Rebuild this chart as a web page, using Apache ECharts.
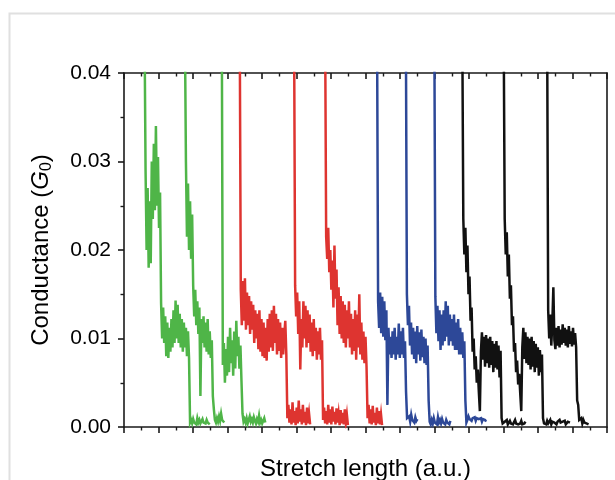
<!DOCTYPE html>
<html><head><meta charset="utf-8">
<script src="https://cdn.jsdelivr.net/npm/echarts/dist/echarts.min.js"></script>
<style>html,body{margin:0;padding:0;background:#fff}#c{width:615px;height:480px}</style>
</head><body><div id="c"></div>
<script>
// Y tick labels (conductance in G0)
const yTickLabels = ['0.00', '0.01', '0.02', '0.03', '0.04'];
const xTitle = 'Stretch length (a.u.)';
// sample spacing along stretch length (a.u.)
const step = 0.06;
// Conductance values in units of 1e-4 G0; each trace starts at its own stretch offset (a.u.)
const g1Start = 1.19;
const g1 = [450,290,200,270,180,255,185,300,235,320,245,340,250,305,225,265,
  140,100,135,95,125,80,118,78,112,85,122,90,132,95,143,100,138,95,128,90,122,85,118,90,112,80,108,78,
  5,8,4,9,5,7,3,10,5,8,4,6,9,5,7,4,8,5,6,3];
const g2Start = 3.53;
const g2 = [450,300,215,275,200,255,190,240,160,125,155,115,142,105,135,35,122,95,125,90,118,85,122,82,108,78,98,35,20,8,5,10,6,12,7,15,8,10,5];
const g3Start = 5.67;
const g3 = [450,70,95,50,88,58,102,62,112,72,98,58,108,66,120,80,102,66,92,52,15,6,9,5,10,4,8,12,6,9,5,11,7,4,9,6,13,5,8,4,7,10,5];
const r1Start = 6.71;
const r1 = [450,155,115,165,120,168,110,152,115,148,105,142,110,138,95,132,100,128,88,132,85,122,80,118,78,112,75,122,85,128,90,132,86,137,95,128,82,122,86,118,78,112,82,104,120,82,
  10,25,5,20,3,28,5,18,2,22,4,30,6,20,3,25,5,17,2,22,4,15,3];
const r2Start = 9.86;
const r2 = [450,160,125,152,105,142,65,122,90,142,100,137,90,132,95,127,85,118,80,122,86,112,76,108,82,112,76,98,
  8,22,4,18,3,25,5,20,3,23,6,17,3,21,5,15,2,19,4,16,3,20,5,14,2];
const r3Start = 11.66;
const r3 = [450,215,190,225,175,200,155,188,135,205,145,178,115,158,105,148,100,142,95,138,90,132,100,142,90,128,82,122,86,132,76,127,90,150,82,118,76,108,72,102,68,
  10,25,4,20,3,24,5,16,2,22,4,18,3,14,2];
const b1Start = 14.67;
const b1 = [450,142,112,152,106,147,102,142,98,132,25,112,82,102,78,108,82,112,76,102,82,117,78,108,82,112,78,97,40,10,8,12,6,14,8,10,5,11,7,9];
const b2Start = 16.34;
const b2 = [450,150,115,137,92,118,82,112,77,108,72,114,82,107,75,110,79,102,72,100,70,92,30,6,3,8,4,10,5,7,3,11,5,8,4,9,5,7,3,8,5,6,3,7];
const b3Start = 17.99;
const b3 = [450,147,106,137,97,132,87,127,92,132,97,142,102,137,92,127,97,122,92,127,87,118,87,122,82,112,82,107,78,97,30,5,8,12,9,11,7,10,8,11,7,10,8,9,7,10,6,9,7,8,6];
const k1Start = 19.61;
const k1 = [450,235,195,225,175,205,150,170,120,135,85,100,65,80,50,65,40,18,85,107,76,102,68,104,72,100,67,102,70,97,62,94,67,97,65,92,56,86,
  10,4,3,6,4,8,3,5,7,4,6,3,5,8,4,6,3,5,4,7,3,5,4,6];
const k2Start = 22.01;
const k2 = [450,235,195,220,170,195,145,160,115,125,85,95,62,75,48,60,38,18,90,112,77,107,72,102,70,100,65,102,68,97,62,94,67,90,58,87,62,82,
  10,4,6,3,7,4,5,8,3,6,4,5,7,3,6,4,8,5,3,6,4,7,3,5,6,4,5];
const k3Start = 24.53;
const k3 = [450,132,100,127,92,117,158,98,88,112,92,114,90,110,93,116,95,112,92,110,90,114,94,108,91,112,93,106,90,30,25,8,6,10,4,8,5,7,4,6,3];

const GREEN = '#4fb548', RED = '#de3430', BLUE = '#2d4898', BLACK = '#111111';
const traces = [
  [g1Start, g1, GREEN], [g2Start, g2, GREEN], [g3Start, g3, GREEN],
  [r1Start, r1, RED], [r2Start, r2, RED], [r3Start, r3, RED],
  [b1Start, b1, BLUE], [b2Start, b2, BLUE], [b3Start, b3, BLUE],
  [k1Start, k1, BLACK], [k2Start, k2, BLACK], [k3Start, k3, BLACK]
];
const toData = (start, vals) => vals.map((v, i) => [+(start + i * step).toFixed(4), v / 10000]);

const FONT = 'Arial, "Liberation Sans", Helvetica, sans-serif';
const AX = '#1a1a1a';
const chart = echarts.init(document.getElementById('c'), null, {renderer: 'canvas'});
const xCommon = {
  type: 'value', min: 0, max: 28, interval: 2,
  axisLine: {show: true, onZero: false, lineStyle: {color: AX, width: 1.6}},
  axisLabel: {show: false},
  splitLine: {show: false},
  minorSplitLine: {show: false}
};
chart.setOption({
  animation: false,
  backgroundColor: '#fff',
  graphic: [{
    type: 'rect', z: -10,
    shape: {x: 9.5, y: 13.5, width: 800, height: 800},
    style: {fill: 'none', stroke: '#e0e0e0', lineWidth: 2}
  }],
  grid: {left: 124, right: 8, top: 73, bottom: 53, containLabel: false, outerBoundsMode: 'none'},
  xAxis: [
    Object.assign({}, xCommon, {
      position: 'bottom',
      axisTick: {show: true, length: 6, lineStyle: {color: AX, width: 1.6}},
      minorTick: {show: true, splitNumber: 2, length: 3.5, lineStyle: {color: AX, width: 1.4}},
      name: xTitle, nameLocation: 'middle', nameGap: 30,
      nameTextStyle: {fontFamily: FONT, fontSize: 24, color: '#000'}
    }),
    Object.assign({}, xCommon, {
      position: 'top',
      axisTick: {show: true, inside: true, length: 6, lineStyle: {color: AX, width: 1.6}},
      minorTick: {show: true, splitNumber: 2, length: 3.5, lineStyle: {color: AX, width: 1.4}}
    })
  ],
  yAxis: [
    {
      type: 'value', min: 0, max: 0.04, interval: 0.01, position: 'left',
      axisLine: {show: true, onZero: false, lineStyle: {color: AX, width: 1.6}},
      axisTick: {show: true, length: 6, lineStyle: {color: AX, width: 1.6}},
      minorTick: {show: true, splitNumber: 2, length: 3.5, lineStyle: {color: AX, width: 1.4}},
      splitLine: {show: false},
      axisLabel: {
        margin: 13, fontFamily: FONT, fontSize: 21, color: '#000',
        formatter: (v) => yTickLabels[Math.round(v / 0.01)]
      },
      name: '{a|Conductance (}{i|G}{s|0}{a|)}',
      nameLocation: 'middle', nameGap: 69,
      nameTextStyle: {
        fontFamily: FONT, fontSize: 24, color: '#000',
        rich: {
          a: {fontFamily: FONT, fontSize: 24, color: '#000'},
          i: {fontFamily: FONT, fontSize: 24, fontStyle: 'italic', color: '#000'},
          s: {fontFamily: FONT, fontSize: 16, color: '#000', padding: [12, 0, 0, 0]}
        }
      }
    },
    {
      type: 'value', min: 0, max: 0.04, interval: 0.01, position: 'right',
      axisLine: {show: true, onZero: false, lineStyle: {color: AX, width: 1.6}},
      axisTick: {show: false}, axisLabel: {show: false}, splitLine: {show: false}
    }
  ],
  series: traces.map(([start, vals, color]) => ({
    type: 'line', xAxisIndex: 0, yAxisIndex: 0,
    data: toData(start, vals),
    showSymbol: false, symbol: 'none', clip: true,
    lineStyle: {color: color, width: 2.5, join: 'miter'},
    emphasis: {disabled: true}
  }))
});
</script>
</body></html>
